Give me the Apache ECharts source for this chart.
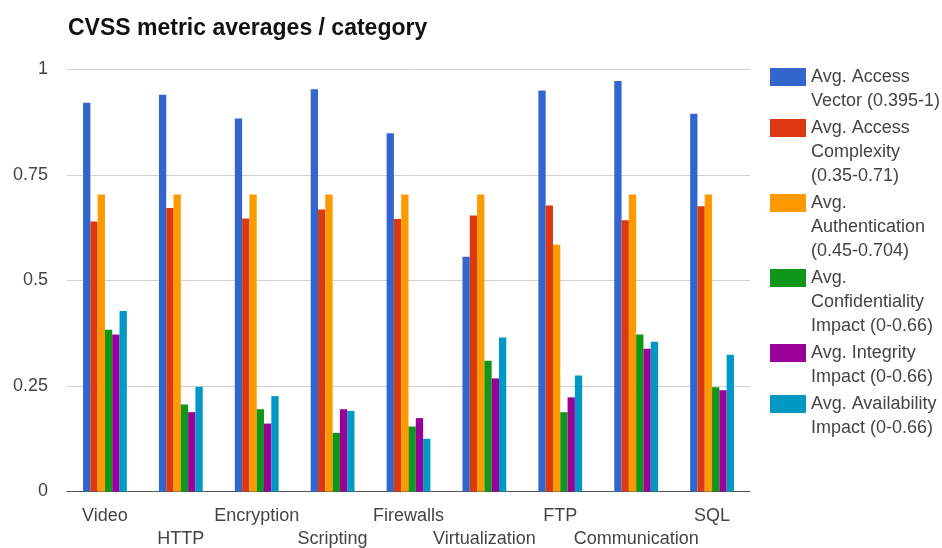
<!DOCTYPE html>
<html>
<head>
<meta charset="utf-8">
<script src="https://cdn.jsdelivr.net/npm/echarts@6/dist/echarts.min.js"></script>
<style>
  html, body { margin: 0; padding: 0; background: #fff; }
  #chart { width: 942px; height: 548px; }
</style>
</head>
<body>
<div id="chart"></div>
<script>
// Categories along the x axis
const categories = ['Video', 'HTTP', 'Encryption', 'Scripting', 'Firewalls', 'Virtualization', 'FTP', 'Communication', 'SQL'];

// Average CVSS metric values per category
const accessVector     = [0.921, 0.940, 0.884, 0.953, 0.849, 0.556, 0.950, 0.973, 0.895];
const accessComplexity = [0.640, 0.672, 0.647, 0.668, 0.646, 0.654, 0.678, 0.643, 0.676];
const authentication   = [0.704, 0.704, 0.704, 0.704, 0.704, 0.704, 0.585, 0.704, 0.704];
const confidentiality  = [0.383, 0.206, 0.195, 0.139, 0.154, 0.310, 0.188, 0.372, 0.247];
const integrity        = [0.372, 0.188, 0.161, 0.195, 0.174, 0.268, 0.223, 0.338, 0.240];
const availability     = [0.428, 0.248, 0.226, 0.191, 0.125, 0.365, 0.275, 0.355, 0.324];

// Series names and their wrapped legend text
const seriesNames = [
  'Avg. Access Vector (0.395-1)',
  'Avg. Access Complexity (0.35-0.71)',
  'Avg. Authentication (0.45-0.704)',
  'Avg. Confidentiality Impact (0-0.66)',
  'Avg. Integrity Impact (0-0.66)',
  'Avg. Availability Impact (0-0.66)'
];
const legendLines = [
  ['Avg. Access', 'Vector (0.395-1)'],
  ['Avg. Access', 'Complexity', '(0.35-0.71)'],
  ['Avg.', 'Authentication', '(0.45-0.704)'],
  ['Avg.', 'Confidentiality', 'Impact (0-0.66)'],
  ['Avg. Integrity', 'Impact (0-0.66)'],
  ['Avg. Availability', 'Impact (0-0.66)']
];
const seriesValues = [accessVector, accessComplexity, authentication, confidentiality, integrity, availability];
const colors = ['#3366cc', '#dc3912', '#ff9900', '#109618', '#990099', '#0099c6'];

const FONT = '"Liberation Sans", Arial, sans-serif';
const LINE_H = 24;          // legend text line height
const ICON_W = 36, ICON_H = 18;
const ITEM_H = 2 * LINE_H + ICON_H;   // room for a 3-line label

// Legend swatch placed beside the first text line; the path box is kept
// symmetric about the item centre so the label block stays aligned.
function swatch(lineCount) {
  const top = ITEM_H / 2 - (lineCount - 1) * LINE_H / 2 - ICON_H / 2;
  const bottom = ITEM_H - top;
  return 'path://M0,' + top + 'h' + ICON_W + 'v' + ICON_H + 'h-' + ICON_W + 'Z' +
         'M0,' + (bottom - 0.01) + 'h0.01v0.01h-0.01Z';
}

const chart = echarts.init(document.getElementById('chart'), null, { renderer: 'canvas' });

chart.setOption({
  animation: false,
  color: colors,
  textStyle: { fontFamily: FONT },
  title: {
    text: 'CVSS metric averages / category',
    left: 68,
    top: 17,
    padding: 0,
    textStyle: { fontFamily: FONT, fontSize: 23, fontWeight: 'bold', color: '#111' }
  },
  legend: {
    orient: 'vertical',
    left: 770,
    top: 65,
    padding: 0,
    itemGap: 3,
    itemWidth: ICON_W,
    itemHeight: ITEM_H,
    symbolKeepAspect: true,
    selectedMode: false,
    data: seriesNames.map((n, i) => ({ name: n, icon: swatch(legendLines[i].length) })),
    formatter: name => legendLines[seriesNames.indexOf(name)].join('\n'),
    textStyle: { fontFamily: FONT, fontSize: 18, lineHeight: LINE_H, color: '#444' }
  },
  grid: {
    left: 67, right: 192, top: 69.5, bottom: 56.5,
    containLabel: false,
    outerBoundsMode: 'none'
  },
  xAxis: {
    type: 'category',
    data: categories,
    axisLine: { show: true, lineStyle: { color: '#555', width: 1 } },
    axisTick: { show: false },
    axisLabel: {
      interval: 0,
      margin: 13,
      fontFamily: FONT,
      fontSize: 18,
      lineHeight: 23,
      color: '#444',
      formatter: (v, i) => (i % 2 ? '\n' + v : v)
    }
  },
  yAxis: {
    type: 'value',
    min: 0,
    max: 1,
    interval: 0.25,
    axisLine: { show: false },
    axisTick: { show: false },
    splitLine: { lineStyle: { color: '#d0d0d0', width: 1 } },
    axisLabel: { margin: 19, fontFamily: FONT, fontSize: 18, color: '#444' }
  },
  series: seriesNames.map((n, i) => ({
    name: n,
    type: 'bar',
    data: seriesValues[i],
    barWidth: 7.3,
    barGap: '0%',
    itemStyle: { color: colors[i] }
  }))
});
</script>
</body>
</html>
